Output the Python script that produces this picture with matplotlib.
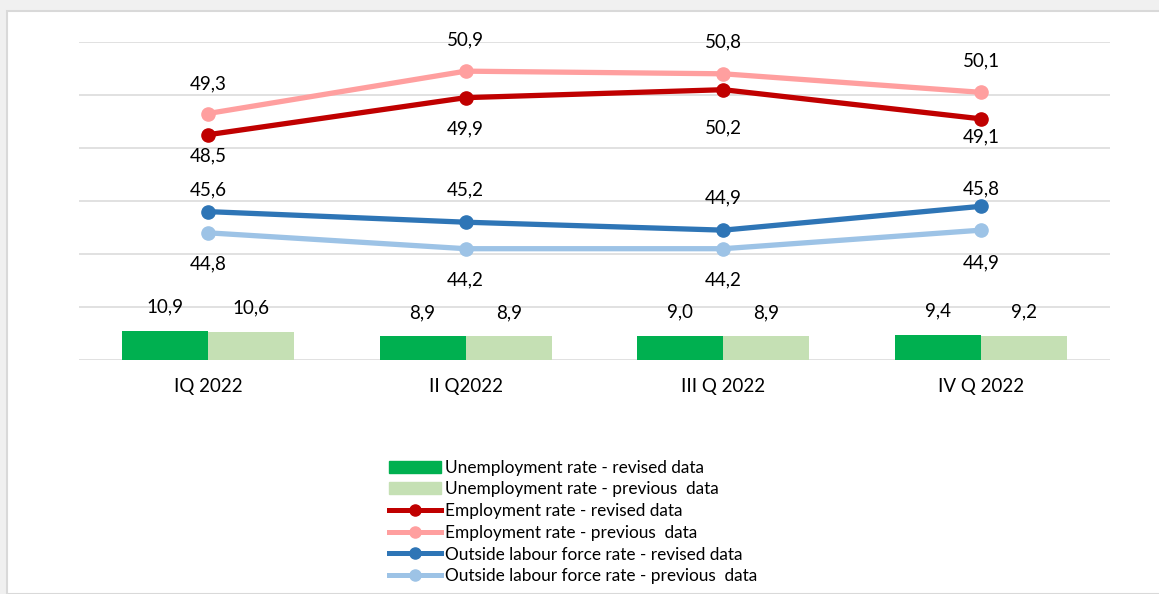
import matplotlib.pyplot as plt
import numpy as np
from matplotlib.patches import Rectangle
from matplotlib.lines import Line2D

# --- Data ---
quarters = ["IQ 2022", "II Q2022", "III Q 2022", "IV Q 2022"]
unemp_revised = [10.9, 8.9, 9.0, 9.4]
unemp_previous = [10.6, 8.9, 8.9, 9.2]
emp_revised = [48.5, 49.9, 50.2, 49.1]
emp_previous = [49.3, 50.9, 50.8, 50.1]
olf_revised = [45.6, 45.2, 44.9, 45.8]
olf_previous = [44.8, 44.2, 44.2, 44.9]

# label offsets in pixels (positive = above point)
emp_rev_off = [-21, -31, -38, -18]
emp_prev_off = [30, 31, 32, 31]
olf_rev_off = [22, 32, 32, 17]
olf_prev_off = [-31, -31, -31, -33]

COLORS = {
    "unemp_rev": "#00B050",
    "unemp_prev": "#C5E0B4",
    "emp_rev": "#C00000",
    "emp_prev": "#FF9F9F",
    "olf_rev": "#2E75B6",
    "olf_prev": "#9DC3E6",
}
FONT = "Lato"
W, H = 1159, 594


def fmt(v):
    return f"{v:.1f}".replace(".", ",")


def main():
    plt.rcParams["font.family"] = [FONT, "DejaVu Sans"]
    fig = plt.figure(figsize=(W / 100, H / 100), dpi=100, facecolor="#f0f0f0")

    # white chart area with thin border
    fig.patches.append(Rectangle((7 / W, 0), 1, 1 - 11 / H, transform=fig.transFigure,
                                 facecolor="white", edgecolor="#d9d9d9", linewidth=1.5,
                                 zorder=-10))

    ax = fig.add_axes([79 / W, 1 - 360 / H, (1110 - 79) / W, 318 / H])
    ax.set_facecolor("none")
    x = np.arange(len(quarters))
    bw = 0.334

    # bars (0-120 scale)
    b1 = ax.bar(x - bw / 2, unemp_revised, bw, color=COLORS["unemp_rev"], zorder=2)
    b2 = ax.bar(x + bw / 2, unemp_previous, bw, color=COLORS["unemp_prev"], zorder=2)
    for bars, vals in ((b1, unemp_revised), (b2, unemp_previous)):
        for r, v in zip(bars, vals):
            ax.annotate(fmt(v), (r.get_x() + r.get_width() / 2, v), xytext=(0, 24),
                        textcoords="offset pixels", ha="center", va="center", fontsize=13.5)
    ax.set_ylim(0, 120)
    ax.set_yticks(np.arange(0, 121, 20))
    ax.set_xlim(-0.5, len(quarters) - 0.5)
    ax.grid(axis="y", color="#d9d9d9", linewidth=1.1, zorder=0)
    ax.set_axisbelow(True)
    ax.set_xticks(x)
    ax.set_xticklabels(quarters, fontsize=13.5)
    ax.tick_params(axis="x", length=0, pad=13)
    ax.tick_params(axis="y", length=0, labelleft=False)
    for s in ax.spines.values():
        s.set_visible(False)

    # lines (40-52 scale)
    ax2 = ax.twinx()
    ax2.set_ylim(40, 52)
    ax2.set_yticks([])
    for s in ax2.spines.values():
        s.set_visible(False)

    series = [
        (emp_previous, COLORS["emp_prev"], emp_prev_off),
        (emp_revised, COLORS["emp_rev"], emp_rev_off),
        (olf_previous, COLORS["olf_prev"], olf_prev_off),
        (olf_revised, COLORS["olf_rev"], olf_rev_off),
    ]
    for vals, col, offs in series:
        ax2.plot(x, vals, color=col, linewidth=3.8, marker="o", markersize=9.5,
                 solid_capstyle="round", zorder=3)
        for xi, v, o in zip(x, vals, offs):
            ax2.annotate(fmt(v), (xi, v), xytext=(0, o), textcoords="offset pixels",
                         ha="center", va="center", fontsize=13.5)

    handles = [
        Rectangle((0, 0), 1, 1, color=COLORS["unemp_rev"]),
        Rectangle((0, 0), 1, 1, color=COLORS["unemp_prev"]),
        Line2D([], [], color=COLORS["emp_rev"], lw=3.6, marker="o", markersize=8),
        Line2D([], [], color=COLORS["emp_prev"], lw=3.6, marker="o", markersize=8),
        Line2D([], [], color=COLORS["olf_rev"], lw=3.6, marker="o", markersize=8),
        Line2D([], [], color=COLORS["olf_prev"], lw=3.6, marker="o", markersize=8),
    ]
    labels = [
        "Unemployment rate - revised data",
        "Unemployment rate - previous  data",
        "Employment rate - revised data",
        "Employment rate - previous  data",
        "Outside labour force rate - revised data",
        "Outside labour force rate - previous  data",
    ]
    fig.legend(handles, labels, loc="center", bbox_to_anchor=(573 / W, 1 - 522 / H),
               frameon=False, fontsize=12.4, handlelength=3.0, handletextpad=0.25,
               labelspacing=0.33, numpoints=1, borderpad=0)

    fig.savefig("out.png", dpi=100, facecolor=fig.get_facecolor())


if __name__ == "__main__":
    main()
